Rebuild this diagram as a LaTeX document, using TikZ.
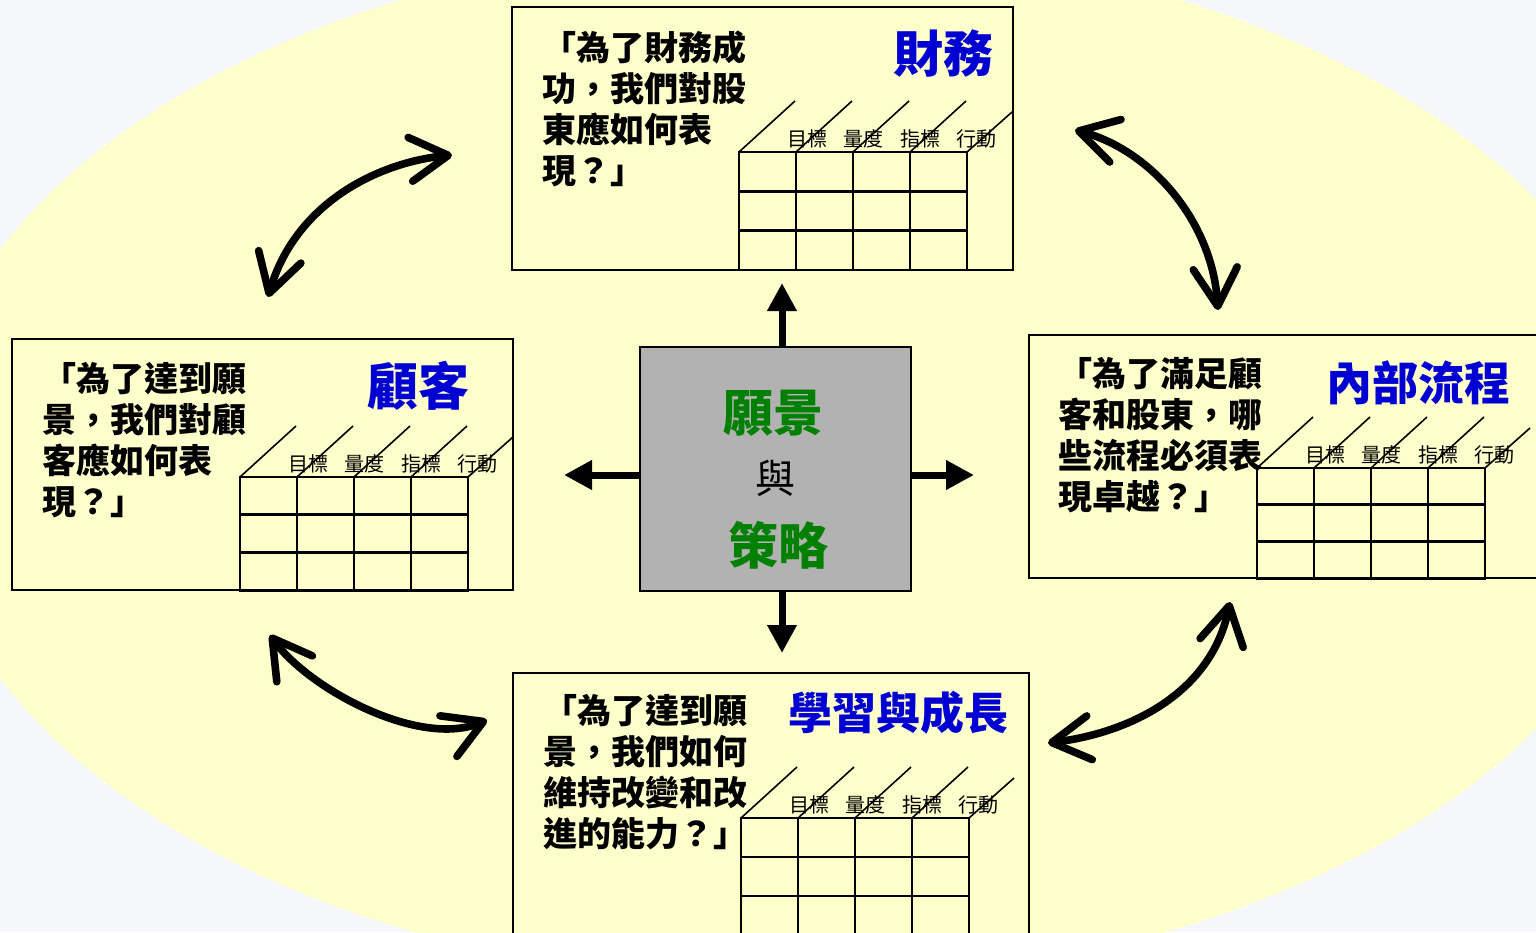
\documentclass[tikz,border=0pt]{standalone}
\usepackage{fontspec}
\setmainfont{Noto Sans CJK TC}
\newfontfamily\cjk{Noto Sans CJK TC}
\usetikzlibrary{arrows.meta,fit}
\definecolor{bgc}{RGB}{246,247,250}
\definecolor{ylw}{RGB}{255,255,204}
\definecolor{ttl}{RGB}{0,0,210}
\definecolor{grn}{RGB}{0,128,0}
\definecolor{ctrgray}{RGB}{178,178,178}
\tikzset{
  panel/.style={draw=black, line width=1.1pt, fill=ylw, inner sep=0pt},
  ctrbox/.style={draw=black, line width=1.3pt, fill=ctrgray, inner sep=0pt},
  gridline/.style={line width=1.4pt, line cap=rect},
  diagline/.style={line width=0.8pt},
  colhead/.style={font=\cjk\fontsize{10}{12}\selectfont, inner sep=0pt},
  question/.style={font=\cjk\bfseries\fontsize{17}{20.5}\selectfont, align=left, inner sep=0pt, anchor=north west},
  ptitle/.style={text=ttl, inner sep=0pt},
  ctrtext/.style={text=grn, inner sep=0pt, font=\cjk\bfseries\fontsize{25}{30}\selectfont},
  ctrarrow/.style={line width=3.5pt, -{Triangle[length=14pt,width=14pt]}},
  dbl/.style={line width=3.8pt, line cap=round, {Straight Barb[length=19pt,width=22pt,round]}-{Straight Barb[length=19pt,width=22pt,round]}}
}
\newcommand\bsctable[4]{%
  \foreach \i in {0,...,4} \draw[gridline] ({#1+\i*57},#2) -- ({#1+\i*57},{#2+3*#3});
  \foreach \j in {0,...,3} \draw[gridline] (#1,{#2+\j*#3}) -- ({#1+228},{#2+\j*#3});
  \foreach \i in {0,...,3} \draw[diagline] ({#1+\i*57},#2) -- ++(56,-51);
  \draw[diagline] ({#1+228},#2) -- ++(45,-40);
  \foreach \t [count=\k from 0] in {目標,量度,指標,行動}
    \node[colhead] (#4h\k) at ({#1+68+\k*56.5},{#2-13}) {\t};
}
\begin{document}
\begin{tikzpicture}[x=0.5pt,y=-0.5pt]
\useasboundingbox (0,0) rectangle (1536,932);
\clip (0,0) rectangle (1536,932);
\fill[bgc] (0,0) rectangle (1536,932);
\fill[ylw] (790,464) ellipse [x radius=433.5pt, y radius=259.5pt];

% panels
\path (512,7) coordinate (finNW) (1013,270) coordinate (finSE);
\node[panel, fit=(finNW)(finSE)] (fin) {};
\path (12,339) coordinate (cusNW) (513,590) coordinate (cusSE);
\node[panel, fit=(cusNW)(cusSE)] (cus) {};
\path (1029,335) coordinate (intNW) (1560,578) coordinate (intSE);
\node[panel, fit=(intNW)(intSE)] (int) {};
\path (513,673) coordinate (lrnNW) (1029,980) coordinate (lrnSE);
\node[panel, fit=(lrnNW)(lrnSE)] (lrn) {};

% tables
\bsctable{739}{152}{39.3}{fin}
\bsctable{240}{477}{37.7}{cus}
\bsctable{1257}{468}{36.7}{int}
\bsctable{741}{818}{39}{lrn}

% questions
\node[question] (finQ) at (542,30) {「為了財務成\\功，我們對股\\東應如何表\\現？」};
\node[question] (cusQ) at (42,362) {「為了達到願\\景，我們對顧\\客應如何表\\現？」};
\node[question] (intQ) at (1058,357) {「為了滿足顧\\客和股東，哪\\些流程必須表\\現卓越？」};
\node[question] (lrnQ) at (543,694) {「為了達到願\\景，我們如何\\維持改變和改\\進的能力？」};

% titles
\node[ptitle, font=\cjk\bfseries\fontsize{25}{30}\selectfont] (finT) at (943,54) {財務};
\node[ptitle, font=\cjk\bfseries\fontsize{25.5}{30}\selectfont] (cusT) at (418,386) {顧客};
\node[ptitle, font=\cjk\bfseries\fontsize{23}{28}\selectfont] (intT) at (1418,383) {內部流程};
\node[ptitle, font=\cjk\bfseries\fontsize{22}{26}\selectfont] (lrnT) at (898,713) {學習與成長};

% center
\path (640,347) coordinate (ctrNW) (911,591) coordinate (ctrSE);
\node[ctrbox, fit=(ctrNW)(ctrSE)] (ctr) {};
\node[ctrtext] (vision) at (773,413) {願景};
\node[inner sep=0pt, font=\cjk\fontsize{20}{24}\selectfont] (and) at (775,478) {與};
\node[ctrtext] (strategy) at (778,545) {策略};

\coordinate (upT) at (782,283);
\coordinate (lfT) at (564,475);
\coordinate (rtT) at (974,475);
\coordinate (dnT) at (782,653);
\draw[ctrarrow] (ctr.north -| upT) -- (upT);
\draw[ctrarrow] (ctr.west |- lfT) -- (lfT);
\draw[ctrarrow] (ctr.east |- rtT) -- (rtT);
\draw[ctrarrow] (ctr.south -| dnT) -- (dnT);

% curved double arrows
\coordinate (tl1) at (452,155);
\coordinate (tl2) at (268,297);
\draw[dbl] (tl2) .. controls (295,205) and (375,163) .. (tl1);
\coordinate (tr1) at (1075,130);
\coordinate (tr2) at (1218,310);
\draw[dbl] (tr1) .. controls (1150,150) and (1212,220) .. (tr2);
\coordinate (bl1) at (270,635);
\coordinate (bl2) at (487,720);
\draw[dbl] (bl1) .. controls (310,690) and (420,748) .. (bl2);
\coordinate (br1) at (1048,743);
\coordinate (br2) at (1230,602);
\draw[dbl] (br1) .. controls (1135,732) and (1212,690) .. (br2);
\end{tikzpicture}
\end{document}
